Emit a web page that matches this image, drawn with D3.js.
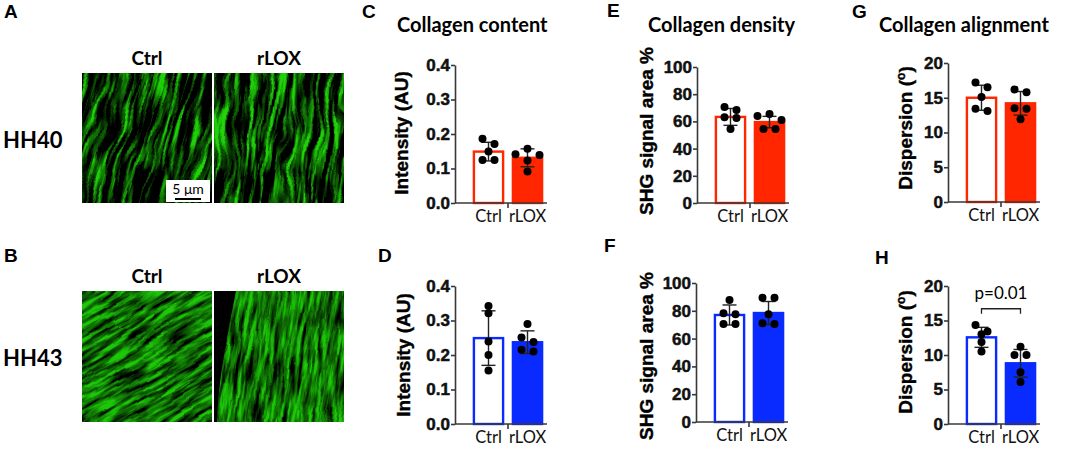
<!DOCTYPE html>
<html>
<head>
<meta charset="utf-8">
<script src="https://cdn.jsdelivr.net/npm/d3@7"></script>
<style>
  body { margin: 0; background: #fff; }
</style>
</head>
<body>
<div id="figure"></div>
<script>
// Groups and tick labels
var groups = ["Ctrl", "rLOX"];
var stages = ["HH40", "HH43"];
var contentTicks = [0, 0.1, 0.2, 0.3, 0.4];
var densityTicks = [0, 20, 40, 60, 80, 100];
var alignTicks = [0, 5, 10, 15, 20];

// Collagen content (Intensity, AU)
var contentHH40Mean = [0.149, 0.131];
var contentHH40SD = [0.027, 0.026];
var contentHH40Ctrl = [0.186, 0.171, 0.149, 0.125, 0.125];
var contentHH40LOX = [0.157, 0.141, 0.139, 0.123, 0.091];

var contentHH43Mean = [0.249, 0.237];
var contentHH43SD = [0.079, 0.033];
var contentHH43Ctrl = [0.342, 0.321, 0.239, 0.200, 0.155];
var contentHH43LOX = [0.290, 0.251, 0.238, 0.215, 0.210];

// Collagen density (SHG signal area %)
var densityHH40Mean = [63.3, 59.5];
var densityHH40SD = [6.2, 4.2];
var densityHH40Ctrl = [70.6, 68.4, 63.0, 62.5, 54.4];
var densityHH40LOX = [65.4, 64.0, 61.0, 54.4, 54.4];

var densityHH43Mean = [77.0, 78.4];
var densityHH43SD = [7.2, 8.3];
var densityHH43Ctrl = [87.8, 78.2, 77.5, 70.5, 70.5];
var densityHH43LOX = [89.4, 89.4, 77.5, 71.0, 70.5];

// Collagen alignment (Dispersion, degrees)
var alignHH40Mean = [15.0, 14.2];
var alignHH40SD = [1.8, 1.7];
var alignHH40Ctrl = [17.2, 16.5, 15.1, 13.4, 13.1];
var alignHH40LOX = [16.2, 15.8, 13.5, 13.4, 11.9];

var alignHH43Mean = [12.56, 8.8];
var alignHH43SD = [1.45, 2.0];
var alignHH43Ctrl = [14.35, 13.4, 13.0, 11.9, 10.5];
var alignHH43LOX = [11.2, 10.0, 10.0, 7.5, 6.1];

// significance annotation for panel H
var alignHH43Sig = "p=0.01";
var alignHH43SigLevel = 16.7;

var red = "#ff2600";
var blue = "#0a2bff";
var axisColor = "#383838";

var svg = d3.select("#figure")
  .append("svg")
  .attr("width", 1065)
  .attr("height", 449)
  .style("font-family", "'Liberation Sans', Arial, sans-serif");

var defs = svg.append("defs");

// ---------- Microscopy panels (A, B) ----------
// fibre-like texture made with svg turbulence; purely decorative
var textures = [
  { id: "texA0", rot: 16, freq: "0.20 0.018", seed: 4, wfreq: "0.03 0.02", warp: 16, gain: 3.2, th: 0.43, oct: 4, top: 0.82 },
  { id: "texA1", rot: 6,  freq: "0.22 0.018", seed: 11, wfreq: "0.035 0.02", warp: 18, gain: 3.2, th: 0.41, oct: 4, top: 0.82 },
  { id: "texB0", rot: 60, freq: "0.24 0.03", seed: 2, wfreq: "0.02 0.015", warp: 12, gain: 2.2, th: 0.25, oct: 4, top: 0.78 },
  { id: "texB1", rot: 8,  freq: "0.26 0.028", seed: 7, wfreq: "0.02 0.015", warp: 10, gain: 2.2, th: 0.25, oct: 4, top: 0.78 }
];

textures.forEach(function(t) {
  var f = defs.append("filter").attr("id", t.id)
    .attr("x", "0").attr("y", "0").attr("width", "1").attr("height", "1")
    .attr("color-interpolation-filters", "sRGB");
  f.append("feTurbulence").attr("type", "fractalNoise")
    .attr("baseFrequency", t.wfreq).attr("numOctaves", 2)
    .attr("seed", t.seed + 20).attr("result", "warp");
  f.append("feTurbulence").attr("type", "fractalNoise")
    .attr("baseFrequency", t.freq).attr("numOctaves", t.oct)
    .attr("seed", t.seed).attr("result", "fib");
  f.append("feDisplacementMap").attr("in", "fib").attr("in2", "warp")
    .attr("scale", t.warp).attr("xChannelSelector", "R").attr("yChannelSelector", "G")
    .attr("result", "wavy");
  var off = -t.gain * t.th;
  f.append("feColorMatrix").attr("in", "wavy").attr("type", "matrix").attr("result", "green")
    .attr("values", [
      0.14 * t.gain, 0, 0, 0, 0.14 * off,
      t.gain, 0, 0, 0, off,
      0.04 * t.gain, 0, 0, 0, 0.04 * off,
      0, 0, 0, 0, 1].join(" "));
  var ct = f.append("feComponentTransfer").attr("in", "green");
  ct.append("feFuncR").attr("type", "linear").attr("slope", t.top);
  ct.append("feFuncG").attr("type", "linear").attr("slope", t.top);
  ct.append("feFuncB").attr("type", "linear").attr("slope", t.top);
});

var imgX = [82, 214];
var imgY = [73, 291];
var imgSize = 130;

stages.forEach(function(stage, r) {
  // panel letter and stage label
  svg.append("text")
    .attr("x", 4).attr("y", r === 0 ? 18 : 262)
    .style("font-size", "19px").style("font-weight", "bold")
    .text(r === 0 ? "A" : "B");

  svg.append("text")
    .attr("x", 3).attr("y", imgY[r] + 75)
    .style("font-family", "Lato, sans-serif")
    .style("font-size", "22px").style("font-weight", "bold")
    .text(stage);

  groups.forEach(function(g, c) {
    var id = "clip" + r + c;
    defs.append("clipPath").attr("id", id)
      .append("rect")
      .attr("x", imgX[c]).attr("y", imgY[r])
      .attr("width", imgSize).attr("height", imgSize + r);

    var cx = imgX[c] + imgSize / 2, cy = imgY[r] + imgSize / 2;
    var t = textures[r * 2 + c];
    var holder = svg.append("g").attr("clip-path", "url(#" + id + ")");
    holder.append("rect")
      .attr("x", imgX[c]).attr("y", imgY[r])
      .attr("width", imgSize).attr("height", imgSize + r)
      .attr("fill", "#000");
    holder.append("g")
      .attr("transform", "rotate(" + t.rot + "," + cx + "," + cy + ")")
      .append("rect")
      .attr("x", cx - imgSize).attr("y", cy - imgSize)
      .attr("width", imgSize * 2).attr("height", imgSize * 2)
      .attr("filter", "url(#" + t.id + ")");

    // dark gap at the left of the HH43 rLOX image
    if (r === 1 && c === 1) {
      holder.append("path")
        .attr("d", "M" + imgX[c] + "," + imgY[r] + " h22 C" + (imgX[c] + 14) + "," + (imgY[r] + 40) +
          " " + (imgX[c] + 4) + "," + (imgY[r] + 90) + " " + (imgX[c] + 3) + "," + (imgY[r] + 131) +
          " H" + imgX[c] + " Z")
        .attr("fill", "#000");
    }

    // column header
    svg.append("text")
      .attr("x", cx).attr("y", imgY[r] - 8)
      .attr("text-anchor", "middle")
      .style("font-family", "Lato, sans-serif")
      .style("font-size", "19px").style("font-weight", "bold")
      .text(g);
  });
});

// scale bar on HH40 Ctrl
var bar = svg.append("g");
bar.append("rect").attr("x", 166).attr("y", 180).attr("width", 44).attr("height", 22).attr("fill", "#fff");
bar.append("text").attr("x", 188).attr("y", 194).attr("text-anchor", "middle")
  .style("font-family", "Lato, sans-serif").style("font-size", "14px").text("5 \u03bcm");
bar.append("line").attr("x1", 175).attr("x2", 201).attr("y1", 199).attr("y2", 199)
  .attr("stroke", "#000").attr("stroke-width", 2);

// ---------- Bar chart panels (C - H) ----------
var panels = [
  { letter: "C", lx: 362, ly: 18, title: "Collagen content", tx: 397, ax: 455, top: 65, bottom: 203,
    ticks: contentTicks, fmt: ".1f", label: "Intensity (AU)", labX: 408, labY: 133, color: red,
    mean: contentHH40Mean, sd: contentHH40SD, pts: [contentHH40Ctrl, contentHH40LOX] },
  { letter: "D", lx: 378, ly: 262, ax: 455, top: 286, bottom: 424,
    ticks: contentTicks, fmt: ".1f", label: "Intensity (AU)", labX: 410, labY: 355, color: blue,
    mean: contentHH43Mean, sd: contentHH43SD, pts: [contentHH43Ctrl, contentHH43LOX] },
  { letter: "E", lx: 607, ly: 17, title: "Collagen density", tx: 648, ax: 697, top: 67, bottom: 203,
    ticks: densityTicks, fmt: "d", label: "SHG signal area %", labX: 653, labY: 131, color: red,
    mean: densityHH40Mean, sd: densityHH40SD, pts: [densityHH40Ctrl, densityHH40LOX] },
  { letter: "F", lx: 604, ly: 252, ax: 696, top: 283, bottom: 422,
    ticks: densityTicks, fmt: "d", label: "SHG signal area %", labX: 653, labY: 356, color: blue,
    mean: densityHH43Mean, sd: densityHH43SD, pts: [densityHH43Ctrl, densityHH43LOX] },
  { letter: "G", lx: 852, ly: 18, title: "Collagen alignment", tx: 879, ax: 948, top: 63, bottom: 202,
    ticks: alignTicks, fmt: "d", label: "Dispersion (", labX: 912, labY: 128, color: red, deg: true,
    mean: alignHH40Mean, sd: alignHH40SD, pts: [alignHH40Ctrl, alignHH40LOX] },
  { letter: "H", lx: 875, ly: 264, ax: 948, top: 286, bottom: 424,
    ticks: alignTicks, fmt: "d", label: "Dispersion (", labX: 912, labY: 352, color: blue, deg: true,
    mean: alignHH43Mean, sd: alignHH43SD, pts: [alignHH43Ctrl, alignHH43LOX],
    sig: alignHH43Sig, sigLevel: alignHH43SigLevel }
];

var dotR = 4;

panels.forEach(function(p) {
  var g = svg.append("g");

  var y = d3.scaleLinear()
    .domain([p.ticks[0], p.ticks[p.ticks.length - 1]])
    .range([p.bottom, p.top]);

  var x = d3.scaleBand()
    .domain(groups)
    .range([p.ax + 14, p.ax + 92])
    .paddingInner(0.2)
    .paddingOuter(0.1);

  // panel letter and title
  g.append("text")
    .attr("x", p.lx).attr("y", p.ly)
    .style("font-size", "19px").style("font-weight", "bold")
    .text(p.letter);

  if (p.title) {
    g.append("text")
      .attr("x", p.tx).attr("y", 32)
      .style("font-family", "Lato, sans-serif")
      .style("font-size", "20px").style("font-weight", "bold")
      .text(p.title);
  }

  // bars
  g.selectAll(".bar")
    .data(groups)
    .enter()
    .append("rect")
    .attr("x", function(d) { return x(d) + 1; })
    .attr("y", function(d, i) { return y(p.mean[i]); })
    .attr("width", x.bandwidth() - 2)
    .attr("height", function(d, i) { return y(0) - y(p.mean[i]); })
    .attr("fill", function(d, i) { return i === 0 ? "#fff" : p.color; })
    .attr("stroke", p.color)
    .attr("stroke-width", 2.4);

  // error bars (SD)
  groups.forEach(function(grp, i) {
    var cx = x(grp) + x.bandwidth() / 2;
    var hi = y(p.mean[i] + p.sd[i]), lo = y(p.mean[i] - p.sd[i]);
    g.append("line").attr("x1", cx).attr("x2", cx).attr("y1", hi).attr("y2", lo)
      .attr("stroke", "#222").attr("stroke-width", 1.4);
    [hi, lo].forEach(function(v) {
      g.append("line").attr("x1", cx - 7).attr("x2", cx + 7).attr("y1", v).attr("y2", v)
        .attr("stroke", "#222").attr("stroke-width", 1.4);
    });

    // scatter: points of similar height share a row, spread sideways
    var sorted = p.pts[i].slice().sort(d3.descending);
    var rows = [];
    sorted.forEach(function(v) {
      var last = rows[rows.length - 1];
      if (last && y(v) - y(last[0]) < 7) last.push(v);
      else rows.push([v]);
    });
    rows.forEach(function(row) {
      var n = row.length;
      var offs = d3.range(n).map(function(k) { return (k - (n - 1) / 2) * 12; })
        .sort(function(a, b) { return Math.abs(a) - Math.abs(b) || a - b; });
      g.selectAll(null)
        .data(row)
        .enter()
        .append("circle")
        .attr("cx", function(d, k) { return cx + offs[k]; })
        .attr("cy", function(d) { return y(d); })
        .attr("r", dotR)
        .attr("fill", "#000");
    });
  });

  // y axis
  var leftAxis = d3.axisLeft(y)
    .tickValues(p.ticks)
    .tickFormat(d3.format(p.fmt))
    .tickSize(4)
    .tickSizeOuter(0);

  var yAx = g.append("g")
    .attr("transform", "translate(" + p.ax + ",0)")
    .call(leftAxis);
  yAx.selectAll("path, line").attr("stroke", axisColor).attr("stroke-width", 1.6);
  yAx.selectAll("text")
    .attr("x", -5)
    .style("font-family", "'Liberation Sans', Arial, sans-serif")
    .style("font-size", "17px").style("font-weight", "bold")
    .attr("fill", "#111")
    .attr("stroke", "#111").attr("stroke-width", 0.5);

  // x axis: baseline, middle tick, group labels
  var bottomAxis = d3.axisBottom(x).tickSize(0);
  var xAx = g.append("g")
    .attr("transform", "translate(0," + p.bottom + ")")
    .call(bottomAxis);
  xAx.select(".domain").remove();
  xAx.selectAll("text")
    .attr("y", 19).attr("dy", 0)
    .style("font-family", "Lato, sans-serif")
    .style("font-size", "16.5px")
    .attr("fill", "#111");

  var midX = (x("Ctrl") + x.bandwidth() + x("rLOX")) / 2;
  g.append("line").attr("x1", p.ax).attr("x2", p.ax + 92).attr("y1", p.bottom).attr("y2", p.bottom)
    .attr("stroke", axisColor).attr("stroke-width", 1.6);
  g.append("line").attr("x1", midX).attr("x2", midX).attr("y1", p.bottom).attr("y2", p.bottom + 5)
    .attr("stroke", axisColor).attr("stroke-width", 1.6);

  // y axis label
  var lab = g.append("text")
    .attr("transform", "translate(" + p.labX + "," + p.labY + ") rotate(-90)")
    .attr("text-anchor", "middle")
    .style("font-size", "19px").style("font-weight", "bold")
    .attr("stroke", "#000").attr("stroke-width", 0.4)
    .text(p.label);
  if (p.deg) {
    lab.append("tspan").attr("dy", -7).style("font-size", "12px").text("o");
    lab.append("tspan").attr("dy", 7).text(")");
  }

  // significance bracket
  if (p.sig) {
    var c0 = x("Ctrl") + x.bandwidth() / 2, c1 = x("rLOX") + x.bandwidth() / 2;
    var by = y(p.sigLevel);
    g.append("path")
      .attr("d", "M" + c0 + "," + (by + 5) + "V" + by + "H" + c1 + "V" + (by + 5))
      .attr("fill", "none").attr("stroke", "#222").attr("stroke-width", 1.3);
    g.append("text")
      .attr("x", (c0 + c1) / 2).attr("y", by - 10)
      .attr("text-anchor", "middle")
      .style("font-family", "Lato, sans-serif").style("font-size", "17px")
      .text(p.sig);
  }
});
</script>
</body>
</html>
